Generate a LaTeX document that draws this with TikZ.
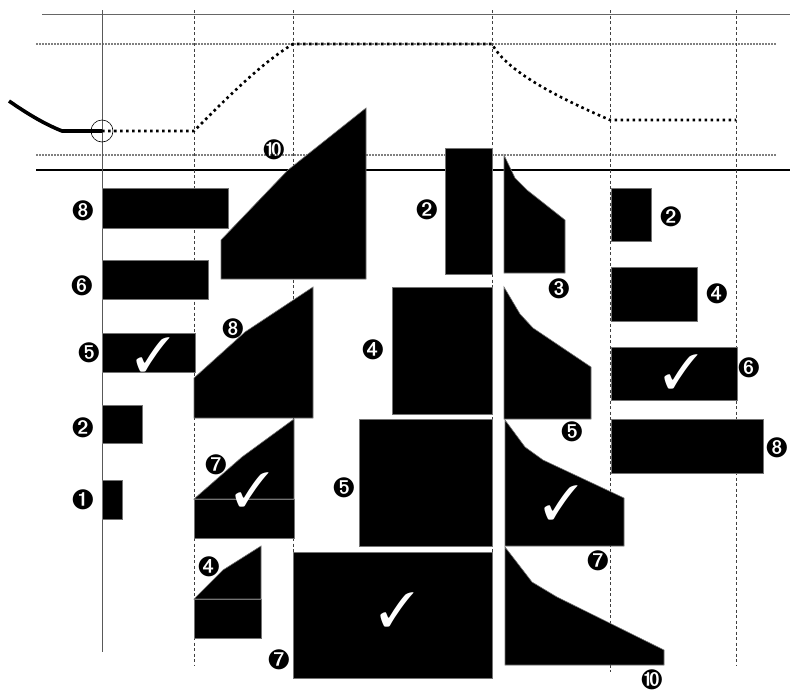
\documentclass[tikz,border=0pt]{standalone}
\usepackage{pifont}
\begin{document}
\begin{tikzpicture}[x=1pt,y=-1pt,
 blk/.style={fill=black,draw=black!55,line width=0.6pt},
 num/.style={inner sep=0pt,font=\fontsize{28}{28}\selectfont},
 chk/.style={text=white,inner sep=0pt,font=\fontsize{48}{48}\selectfont},
 vdash/.style={draw=black!75,line width=0.8pt,dash pattern=on 3pt off 2.5pt},
 gdot/.style={draw=black!50,line width=2.8pt,dash pattern=on 1.6pt off 1.4pt},
 bdot/.style={draw=black,line width=2.6pt,dash pattern=on 2.6pt off 3.4pt},
 axis/.style={draw=black!65,line width=0.9pt}]
\useasboundingbox (0,0) rectangle (790,691);
% guide lines
\draw[axis,draw=black!60] (42,14) -- (790,14);
\draw[gdot] (36,44) -- (776,44);
\draw[gdot] (36,155) -- (776,155);
\draw[black,line width=1.2pt] (36,170) -- (790,170);
\draw[axis] (102,10) -- (102,652);
\draw[vdash] (194,10) -- (194,665);
\draw[vdash] (293,10) -- (293,665);
\draw[vdash] (492,10) -- (492,678);
\draw[vdash] (610,10) -- (610,672);
\draw[vdash] (736,10) -- (736,665);
% profile
\coordinate (p0) at (9,101);
\coordinate (p1) at (62,131);
\coordinate (p2) at (102,131);
\coordinate (p3) at (194,131);
\coordinate (p4) at (293,44);
\coordinate (p5) at (492,44);
\coordinate (p6) at (610,120);
\coordinate (p7) at (736,120);
\draw[line width=3.6pt] (p0) .. controls (25,112) and (42,123) .. (p1) -- (p2);
\draw[bdot] (p2) -- (p3) .. controls (225,100) and (260,64) .. (p4) -- (p5)
  .. controls (505,68) and (545,92) .. (p6) -- (p7);
\node[draw=black,line width=0.6pt,circle,minimum size=22pt,inner sep=0pt] (ring) at (p2) {};
% column 1
\fill[blk] (102,188) rectangle (228,228);
\fill[blk] (102,260) rectangle (208,299);
\fill[blk] (102,333) rectangle (195,372);
\fill[blk] (102,405) rectangle (142,443);
\fill[blk] (102,480) rectangle (122,519);
\node[chk] (c1) at (153,355) {\ding{51}};
\node[num] (l8a) at (83,211) {\ding{209}};
\node[num] (l6a) at (82,286) {\ding{207}};
\node[num] (l5a) at (89,353) {\ding{206}};
\node[num] (l2a) at (83,428) {\ding{203}};
\node[num] (l1a) at (83,500) {\ding{202}};
% column 2
\fill[blk] (221,279) -- (221,240) -- (288,170) -- (366,108) -- (366,279) -- cycle;
\fill[blk] (194,418) -- (194,378) -- (245,332) -- (313,287) -- (313,418) -- cycle;
\fill[blk] (194,499) -- (242,457) -- (294,419) -- (294,499) -- cycle;
\fill[blk] (194,499) rectangle (294,538);
\fill[blk] (194,599) -- (223,570) -- (261,546) -- (261,599) -- cycle;
\fill[blk] (194,599) rectangle (261,638);
\node[chk] (c2) at (252,490) {\ding{51}};
\node[num] (l10a) at (274,150) {\ding{211}};
\node[num] (l8b) at (233,329) {\ding{209}};
\node[num] (l7a) at (216,465) {\ding{208}};
\node[num] (l4a) at (209,567) {\ding{205}};
% column 3
\fill[blk] (445,148) rectangle (492,274);
\fill[blk] (392,287) rectangle (492,414);
\fill[blk] (359,419) rectangle (492,546);
\fill[blk] (293,552) rectangle (492,678);
\node[chk] (c3) at (397,610) {\ding{51}};
\node[num] (l2b) at (427,210) {\ding{203}};
\node[num] (l4b) at (373,350) {\ding{205}};
\node[num] (l5b) at (344,488) {\ding{206}};
\node[num] (l7b) at (279,660) {\ding{208}};
% column 4
\fill[blk] (504,155) -- (515,178) -- (527,190) -- (565,220) -- (565,273) -- (504,273) -- cycle;
\fill[blk] (504,287) -- (520,314) -- (533,328) -- (591,367) -- (591,419) -- (504,419) -- cycle;
\fill[blk] (505,420) -- (525,447) -- (543,460) -- (624,498) -- (624,546) -- (505,546) -- cycle;
\fill[blk] (505,547) -- (532,582) -- (557,597) -- (664,650) -- (664,665) -- (505,665) -- cycle;
\node[chk] (c4) at (561,503) {\ding{51}};
\node[num] (l3a) at (559,289) {\ding{204}};
\node[num] (l5c) at (572,432) {\ding{206}};
\node[num] (l7c) at (598,561) {\ding{208}};
\node[num] (l10b) at (652,680) {\ding{211}};
% column 5
\fill[blk] (611,188) rectangle (651,241);
\fill[blk] (611,267) rectangle (697,321);
\fill[blk] (611,347) rectangle (737,400);
\fill[blk] (611,419) rectangle (763,473);
\node[chk] (c5) at (681,372) {\ding{51}};
\node[num] (l2c) at (671,217) {\ding{203}};
\node[num] (l4c) at (717,294) {\ding{205}};
\node[num] (l6b) at (749,368) {\ding{207}};
\node[num] (l8c) at (777,448) {\ding{209}};
\end{tikzpicture}
\end{document}
